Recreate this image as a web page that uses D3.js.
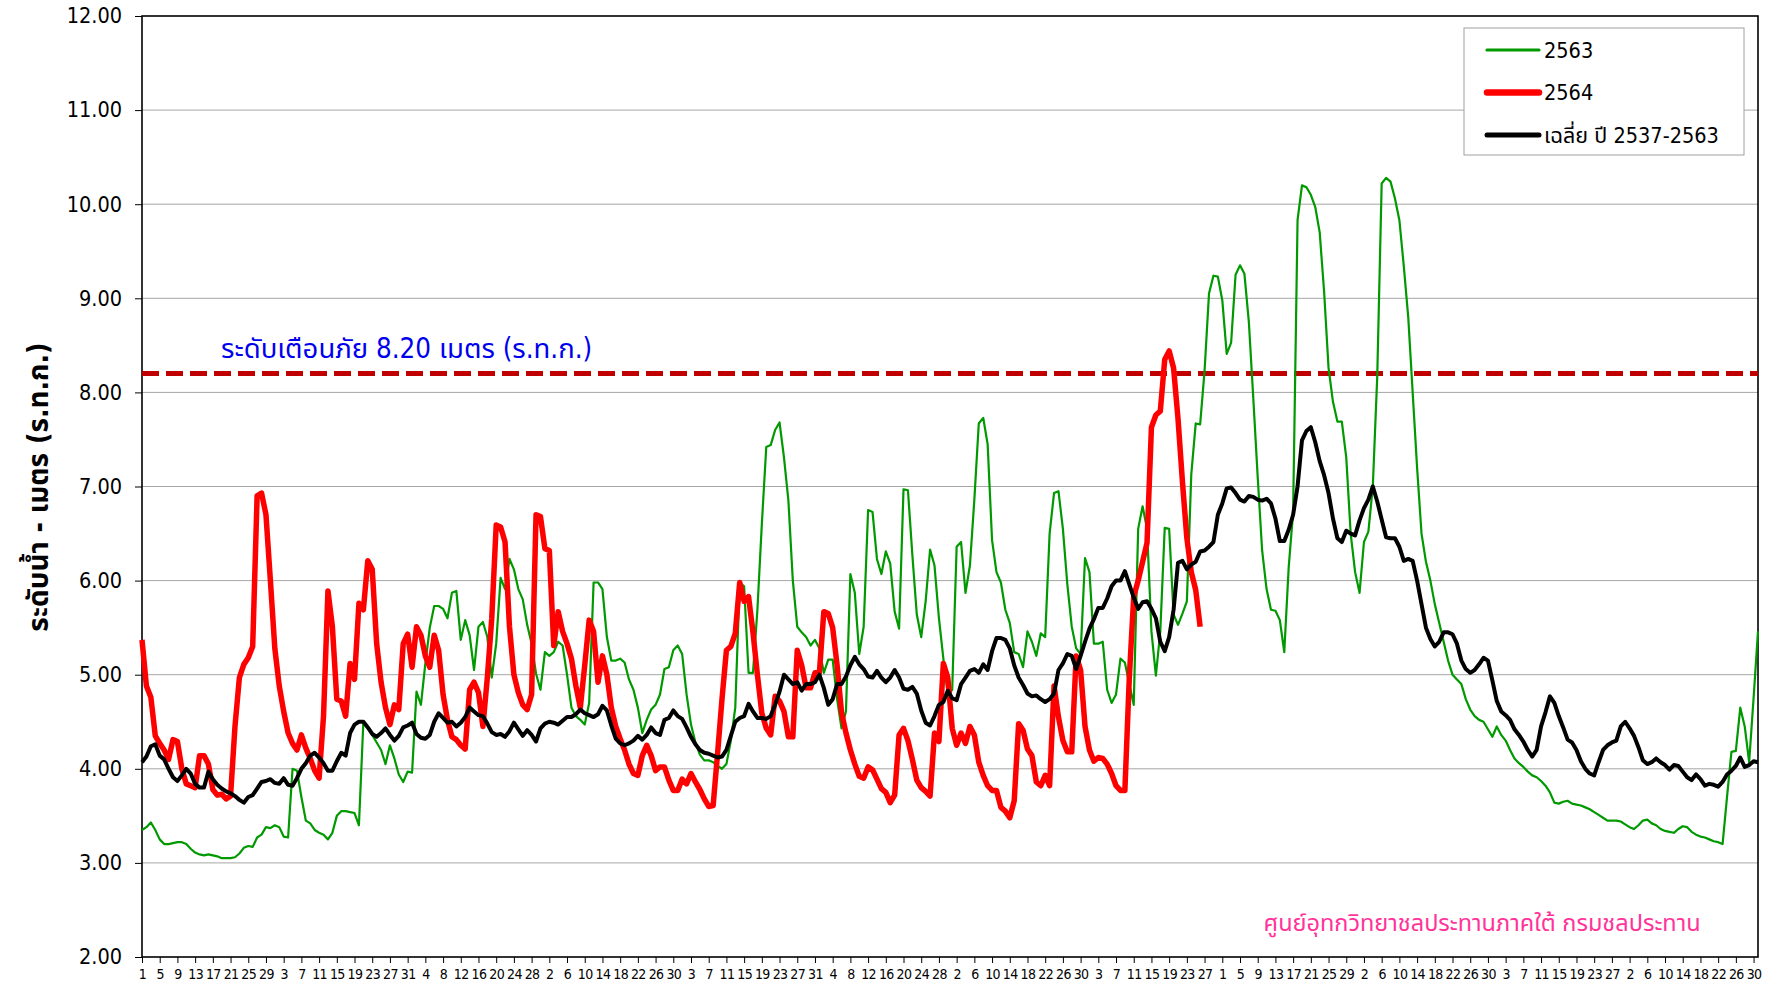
<!DOCTYPE html>
<meta charset="utf-8">
<title>ระดับน้ำ 2563-2564</title>
<style>
    body { margin: 0; background: #fff; }
    svg { display: block; }
    text { font-family: Tahoma, "DejaVu Sans Condensed", "Noto Sans Thai", sans-serif; }
    .grid line { stroke: #a6a6a6; stroke-width: 1; }
    .axis path, .axis line { stroke: #000; }
</style>
<svg width="1770" height="990"></svg>
<script src="https://cdn.jsdelivr.net/npm/d3@7"></script>
<script>

    // water year, April to March: days per month
    var monthDays = [30, 31, 30, 31, 31, 30, 31, 30, 31, 31, 29, 31];

    var warnLevel = 8.20;

    var seriesNames = ["2563", "2564", "เฉลี่ย ปี 2537-2563"];

    // 2563
    var level2563 = [
        3.35,3.38,3.43,3.35,3.25,3.2,3.2,3.21,3.22,3.22,
        3.2,3.15,3.11,3.09,3.08,3.09,3.08,3.07,3.05,3.05,
        3.05,3.06,3.1,3.16,3.18,3.17,3.27,3.3,3.38,3.37,
        3.4,3.38,3.28,3.27,4.0,3.98,3.7,3.45,3.42,3.35,
        3.32,3.3,3.25,3.32,3.5,3.55,3.55,3.54,3.53,3.4,
        4.5,4.45,4.36,4.28,4.2,4.05,4.25,4.11,3.94,3.86,
        3.97,3.96,4.82,4.68,5.12,5.5,5.73,5.73,5.7,5.6,
        5.87,5.89,5.37,5.58,5.42,5.05,5.51,5.56,5.4,4.97,
        5.33,6.03,5.91,6.23,6.12,5.91,5.8,5.53,5.33,5.01,
        4.84,5.24,5.2,5.24,5.35,5.31,5.0,4.65,4.56,4.52,
        4.47,4.7,5.98,5.98,5.91,5.4,5.15,5.15,5.17,5.13,
        4.95,4.84,4.65,4.38,4.52,4.63,4.68,4.79,5.06,5.08,
        5.26,5.31,5.22,4.79,4.47,4.28,4.15,4.09,4.09,4.07,
        4.03,4.0,4.05,4.3,4.65,5.98,5.94,5.02,5.02,5.69,
        6.6,7.42,7.44,7.6,7.68,7.31,6.85,6.0,5.51,5.45,
        5.4,5.31,5.37,5.28,5.02,5.16,5.16,4.74,4.43,4.61,
        6.07,5.87,5.22,5.51,6.75,6.73,6.23,6.07,6.31,6.18,
        5.67,5.49,6.97,6.96,6.27,5.64,5.4,5.78,6.33,6.16,
        5.6,5.17,4.79,4.84,6.36,6.41,5.87,6.16,6.86,7.67,
        7.73,7.45,6.43,6.09,5.98,5.69,5.55,5.24,5.22,5.08,
        5.46,5.35,5.2,5.44,5.4,6.5,6.93,6.95,6.55,5.96,
        5.51,5.28,5.22,6.24,6.09,5.33,5.33,5.35,4.84,4.7,
        4.79,5.17,5.13,4.9,4.68,6.55,6.79,6.55,5.46,4.99,
        5.46,6.56,6.55,5.64,5.53,5.65,5.78,7.13,7.67,7.66,
        8.23,9.05,9.24,9.23,8.98,8.41,8.53,9.25,9.35,9.26,
        8.75,7.94,7.1,6.32,5.91,5.69,5.68,5.58,5.24,6.14,
        6.73,9.83,10.2,10.18,10.1,9.97,9.7,9.07,8.26,7.9,
        7.69,7.69,7.31,6.5,6.09,5.87,6.41,6.52,7.0,8.17,
        10.22,10.28,10.24,10.06,9.83,9.34,8.8,8.0,7.2,6.5,
        6.2,6.0,5.75,5.55,5.35,5.15,5.0,4.95,4.9,4.74,
        4.63,4.56,4.52,4.5,4.42,4.34,4.45,4.36,4.3,4.2,
        4.11,4.06,4.02,3.97,3.93,3.91,3.87,3.82,3.75,3.64,
        3.63,3.65,3.66,3.63,3.62,3.61,3.59,3.57,3.54,3.51,
        3.48,3.45,3.45,3.45,3.44,3.41,3.38,3.36,3.4,3.45,
        3.46,3.42,3.4,3.36,3.34,3.33,3.32,3.36,3.39,3.38,
        3.33,3.3,3.28,3.27,3.25,3.23,3.22,3.2,3.7,4.18,
        4.19,4.65,4.45,4.07,4.75,5.46
    ];

    // 2564 (up to the latest reading)
    var level2564 = [
        5.37,4.88,4.76,4.35,4.27,4.2,4.1,4.31,4.29,4.0,
        3.84,3.82,3.80,4.14,4.14,4.05,3.78,3.72,3.73,3.68,
        3.71,4.45,4.97,5.11,5.18,5.3,6.9,6.93,6.7,6.0,
        5.28,4.88,4.61,4.38,4.27,4.2,4.36,4.22,4.11,3.98,
        3.9,4.56,5.89,5.51,4.74,4.72,4.56,5.12,4.95,5.76,
        5.69,6.21,6.12,5.33,4.92,4.65,4.47,4.68,4.63,5.33,
        5.43,5.08,5.51,5.42,5.2,5.08,5.42,5.26,4.79,4.52,
        4.34,4.31,4.25,4.21,4.84,4.92,4.81,4.45,4.97,5.6,
        6.59,6.57,6.41,5.51,5.0,4.81,4.68,4.63,4.79,6.7,
        6.68,6.34,6.32,5.31,5.67,5.46,5.33,5.17,4.88,4.65,
        5.1,5.58,5.46,4.92,5.2,5.0,4.65,4.45,4.32,4.2,
        4.05,3.95,3.93,4.14,4.25,4.14,3.98,4.02,4.02,3.88,
        3.77,3.77,3.89,3.84,3.95,3.86,3.78,3.68,3.6,3.61,
        4.16,4.74,5.26,5.3,5.44,5.98,5.78,5.83,5.45,5.0,
        4.59,4.43,4.36,4.77,4.72,4.61,4.34,4.34,5.26,5.1,
        4.86,4.86,5.02,5.02,5.67,5.65,5.5,5.1,4.6,4.38,
        4.2,4.05,3.92,3.9,4.02,3.99,3.89,3.79,3.75,3.64,
        3.72,4.36,4.43,4.3,4.1,3.88,3.8,3.76,3.71,4.38,
        4.29,5.12,4.97,4.43,4.25,4.38,4.27,4.45,4.36,4.07,
        3.93,3.82,3.77,3.77,3.59,3.55,3.48,3.66,4.48,4.41,
        4.21,4.14,3.86,3.82,3.93,3.82,4.88,4.55,4.3,4.18,
        4.18,5.2,5.05,4.45,4.2,4.08,4.12,4.11,4.05,3.95,
        3.82,3.77,3.77,4.97,5.83,6.0,6.2,6.4,7.63,7.76,
        7.8,8.35,8.44,8.26,7.72,7.05,6.45,6.09,5.9,5.51
    ];

    // average 2537-2563
    var levelAvg = [
        4.07,4.13,4.24,4.26,4.14,4.1,4.0,3.91,3.87,3.93,
        4.0,3.95,3.84,3.8,3.8,3.97,3.89,3.83,3.79,3.76,
        3.74,3.71,3.67,3.64,3.7,3.72,3.79,3.86,3.87,3.89,
        3.85,3.84,3.9,3.83,3.82,3.9,4.0,4.06,4.14,4.17,
        4.12,4.06,3.98,3.98,4.08,4.17,4.14,4.38,4.47,4.5,
        4.5,4.44,4.37,4.34,4.38,4.43,4.36,4.3,4.35,4.44,
        4.46,4.49,4.37,4.33,4.32,4.36,4.5,4.59,4.54,4.49,
        4.5,4.45,4.49,4.55,4.65,4.61,4.57,4.56,4.48,4.39,
        4.36,4.37,4.34,4.4,4.49,4.42,4.35,4.41,4.36,4.29,
        4.43,4.48,4.5,4.49,4.47,4.51,4.55,4.55,4.58,4.63,
        4.59,4.57,4.55,4.58,4.67,4.62,4.46,4.32,4.27,4.25,
        4.27,4.3,4.35,4.31,4.36,4.44,4.38,4.36,4.52,4.54,
        4.62,4.56,4.53,4.44,4.34,4.26,4.2,4.17,4.16,4.14,
        4.12,4.13,4.2,4.35,4.5,4.54,4.56,4.69,4.61,4.54,
        4.54,4.53,4.56,4.68,4.82,5.0,4.95,4.9,4.92,4.83,
        4.9,4.9,4.92,5.0,4.86,4.68,4.74,4.9,4.9,4.98,
        5.1,5.19,5.11,5.06,4.98,4.97,5.04,4.97,4.92,4.97,
        5.05,4.97,4.85,4.84,4.87,4.8,4.62,4.49,4.46,4.56,
        4.68,4.71,4.83,4.75,4.73,4.9,4.97,5.04,5.06,5.02,
        5.11,5.05,5.25,5.39,5.39,5.37,5.28,5.1,4.97,4.89,
        4.8,4.77,4.78,4.74,4.71,4.74,4.8,5.05,5.12,5.22,
        5.2,5.06,5.2,5.35,5.49,5.59,5.71,5.71,5.81,5.94,
        6.0,6.0,6.1,5.96,5.82,5.7,5.77,5.78,5.7,5.6,
        5.35,5.25,5.4,5.69,6.19,6.21,6.12,6.17,6.2,6.31,
        6.32,6.36,6.41,6.7,6.82,6.98,6.99,6.93,6.86,6.84,
        6.9,6.89,6.86,6.85,6.87,6.82,6.66,6.42,6.42,6.54,
        6.7,7.0,7.49,7.59,7.63,7.47,7.27,7.12,6.93,6.66,
        6.45,6.41,6.53,6.5,6.48,6.64,6.77,6.86,7.0,6.84,
        6.65,6.46,6.45,6.45,6.36,6.21,6.23,6.21,6.0,5.75,
        5.5,5.38,5.3,5.35,5.45,5.45,5.43,5.33,5.15,5.06,
        5.02,5.05,5.11,5.18,5.15,4.94,4.72,4.61,4.57,4.52,
        4.42,4.36,4.29,4.2,4.13,4.2,4.45,4.6,4.77,4.7,
        4.56,4.44,4.31,4.28,4.2,4.08,4.0,3.95,3.93,4.07,
        4.2,4.25,4.28,4.3,4.45,4.5,4.43,4.35,4.23,4.09,
        4.05,4.07,4.11,4.07,4.04,3.99,4.04,4.03,3.97,3.91,
        3.88,3.94,3.89,3.82,3.84,3.83,3.81,3.86,3.94,3.98,
        4.03,4.12,4.02,4.04,4.08,4.07
    ];

    //begin: layout conf.
    var svg = d3.select("svg"),
        margin = {top: 16, right: 12, bottom: 33, left: 142},
        width = +svg.attr("width") - margin.left - margin.right,
        height = +svg.attr("height") - margin.top - margin.bottom;
    //end: layout conf.

    // day of month for every day of the water year
    var dayOfMonth = [];
    monthDays.forEach(function(n) {
        for (var d = 1; d <= n; d++) dayOfMonth.push(d);
    });

    var x = d3.scaleLinear().domain([0, dayOfMonth.length - 1]).range([0, width]),
        y = d3.scaleLinear().domain([2, 12]).range([height, 0]);

    var g = svg.append("g")
        .attr("transform", "translate(" + [margin.left, margin.top] + ")");

    // horizontal grid
    g.append("g")
        .attr("class", "grid")
        .selectAll("line")
        .data(d3.range(3, 12))
        .enter().append("line")
        .attr("x1", 0).attr("x2", width)
        .attr("y1", function(d) { return y(d); })
        .attr("y2", function(d) { return y(d); });

    // y axis
    var yAxis = g.append("g")
        .attr("class", "axis")
        .call(d3.axisLeft(y).tickValues(d3.range(2, 13)).tickFormat(d3.format(".2f")).tickSize(7).tickPadding(13));
    yAxis.select(".domain").remove();
    yAxis.selectAll("text").attr("font-size", 21.5).attr("fill", "#000");

    // x axis
    var xAxis = g.append("g")
        .attr("class", "axis")
        .attr("transform", "translate(0," + height + ")")
        .call(d3.axisBottom(x)
            .tickValues(d3.range(0, dayOfMonth.length, 4))
            .tickFormat(function(i) { return dayOfMonth[i]; })
            .tickSize(6).tickPadding(6));
    xAxis.select(".domain").remove();
    xAxis.selectAll("text").attr("font-size", 14).attr("fill", "#000")
        .attr("letter-spacing", -0.6);

    // plot frame
    g.append("rect")
        .attr("width", width).attr("height", height)
        .attr("fill", "none").attr("stroke", "#000").attr("stroke-width", 1.6);

    // warning level
    g.append("line")
        .attr("x1", 0).attr("x2", width)
        .attr("y1", y(warnLevel)).attr("y2", y(warnLevel))
        .attr("stroke", "#c00000").attr("stroke-width", 5)
        .attr("stroke-dasharray", "17,7");

    g.append("text")
        .attr("x", 79).attr("y", y(warnLevel) - 16)
        .attr("font-size", 27.5).attr("fill", "#0000ee")
        .text("ระดับเตือนภัย 8.20 เมตร (ร.ท.ก.)");

    var line = d3.line()
        .x(function(d, i) { return x(i); })
        .y(function(d) { return y(d); });

    var series = [
        {name: seriesNames[0], values: level2563, color: "#009900", width: 2.2},
        {name: seriesNames[1], values: level2564, color: "#ff0000", width: 5.5},
        {name: seriesNames[2], values: levelAvg, color: "#000000", width: 4}
    ];

    g.selectAll(".series")
        .data(series)
        .enter().append("path")
        .attr("class", "series")
        .attr("fill", "none")
        .attr("stroke", function(d) { return d.color; })
        .attr("stroke-width", function(d) { return d.width; })
        .attr("stroke-linejoin", "round")
        .attr("d", function(d) { return line(d.values); });

    // legend
    var legend = svg.append("g").attr("transform", "translate(1464,28)");
    legend.append("rect")
        .attr("width", 280).attr("height", 127)
        .attr("fill", "#fff").attr("stroke", "#a0a0a0");
    var item = legend.selectAll(".item")
        .data(series)
        .enter().append("g")
        .attr("class", "item")
        .attr("transform", function(d, i) { return "translate(0," + (22 + i * 42.5) + ")"; });
    item.append("line")
        .attr("x1", 23).attr("x2", 75)
        .attr("stroke", function(d) { return d.color; })
        .attr("stroke-width", function(d) { return d.width + 1; })
        .attr("stroke-linecap", "round");
    item.append("text")
        .attr("x", 80).attr("dy", "0.35em")
        .attr("font-size", 21.5)
        .text(function(d) { return d.name; });

    // y axis title
    svg.append("text")
        .attr("transform", "translate(48,487) rotate(-90)")
        .attr("text-anchor", "middle")
        .attr("font-size", 28).attr("font-weight", "bold")
        .text("ระดับน้ำ  -  เมตร (ร.ท.ก.)");

    // source
    svg.append("text")
        .attr("x", 1482).attr("y", 931)
        .attr("text-anchor", "middle")
        .attr("font-size", 23.5).attr("fill", "#ff3399")
        .text("ศูนย์อุทกวิทยาชลประทานภาคใต้  กรมชลประทาน");

</script>
